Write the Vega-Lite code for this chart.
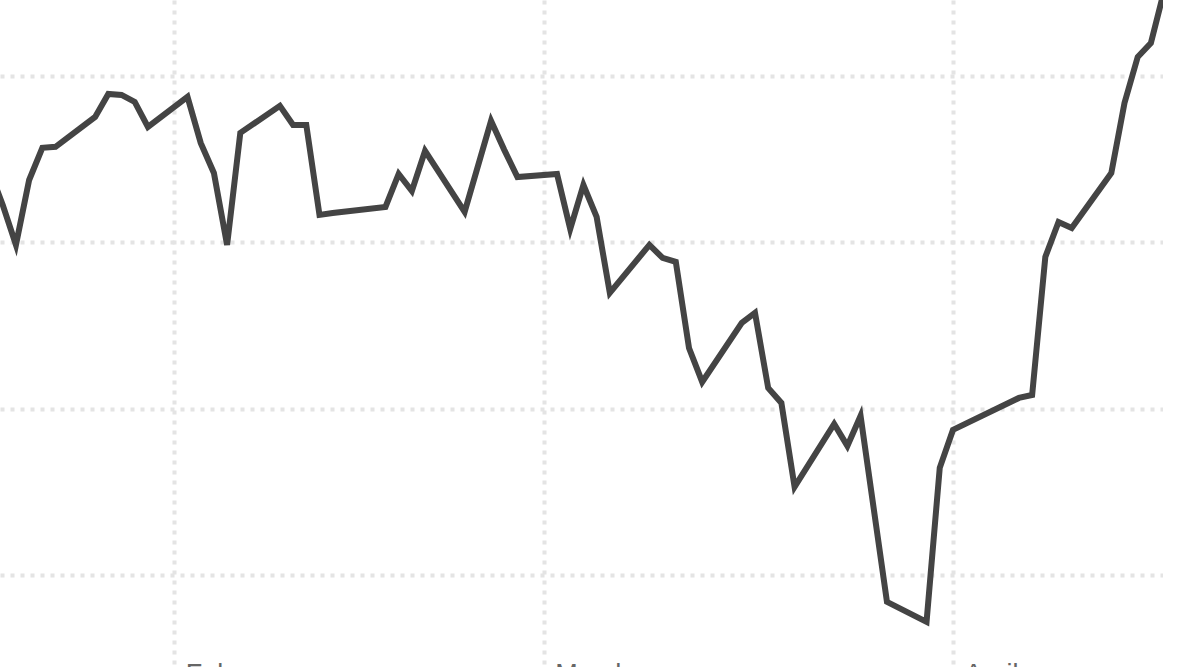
{
  "$schema": "https://vega.github.io/schema/vega-lite/v6.json",
  "width": 1163,
  "height": 667,
  "autosize": {"type": "none"},
  "padding": 0,
  "background": "white",
  "config": {"view": {"stroke": null}},
  "data": {
    "format": {"parse": {"date": "date:'%Y-%m-%d'"}},
    "values": [
      {"date": "2019-01-18", "value": 84.35},
      {"date": "2019-01-19", "value": 82.25},
      {"date": "2019-01-20", "value": 79.85},
      {"date": "2019-01-21", "value": 83.75},
      {"date": "2019-01-22", "value": 85.68},
      {"date": "2019-01-23", "value": 85.74},
      {"date": "2019-01-26", "value": 87.54},
      {"date": "2019-01-27", "value": 88.92},
      {"date": "2019-01-28", "value": 88.86},
      {"date": "2019-01-29", "value": 88.44},
      {"date": "2019-01-30", "value": 86.94},
      {"date": "2019-02-02", "value": 88.74},
      {"date": "2019-02-03", "value": 85.98},
      {"date": "2019-02-04", "value": 84.17},
      {"date": "2019-02-05", "value": 79.85},
      {"date": "2019-02-06", "value": 86.58},
      {"date": "2019-02-09", "value": 88.2},
      {"date": "2019-02-10", "value": 87.06},
      {"date": "2019-02-11", "value": 87.06},
      {"date": "2019-02-12", "value": 81.65},
      {"date": "2019-02-13", "value": 81.77},
      {"date": "2019-02-17", "value": 82.13},
      {"date": "2019-02-18", "value": 84.11},
      {"date": "2019-02-19", "value": 83.09},
      {"date": "2019-02-20", "value": 85.5},
      {"date": "2019-02-23", "value": 81.83},
      {"date": "2019-02-25", "value": 87.3},
      {"date": "2019-02-26", "value": 85.56},
      {"date": "2019-02-27", "value": 83.93},
      {"date": "2019-03-02", "value": 84.11},
      {"date": "2019-03-03", "value": 80.81},
      {"date": "2019-03-04", "value": 83.45},
      {"date": "2019-03-05", "value": 81.53},
      {"date": "2019-03-06", "value": 76.97},
      {"date": "2019-03-09", "value": 79.85},
      {"date": "2019-03-10", "value": 79.07},
      {"date": "2019-03-11", "value": 78.83},
      {"date": "2019-03-12", "value": 73.66},
      {"date": "2019-03-13", "value": 71.62},
      {"date": "2019-03-16", "value": 75.17},
      {"date": "2019-03-17", "value": 75.77},
      {"date": "2019-03-18", "value": 71.26},
      {"date": "2019-03-19", "value": 70.36},
      {"date": "2019-03-20", "value": 65.32},
      {"date": "2019-03-23", "value": 69.1},
      {"date": "2019-03-24", "value": 67.78},
      {"date": "2019-03-25", "value": 69.58},
      {"date": "2019-03-27", "value": 58.41},
      {"date": "2019-03-30", "value": 57.21},
      {"date": "2019-03-31", "value": 66.46},
      {"date": "2019-04-01", "value": 68.74},
      {"date": "2019-04-06", "value": 70.66},
      {"date": "2019-04-07", "value": 70.84},
      {"date": "2019-04-08", "value": 79.13},
      {"date": "2019-04-09", "value": 81.23},
      {"date": "2019-04-10", "value": 80.87},
      {"date": "2019-04-13", "value": 84.17},
      {"date": "2019-04-14", "value": 88.38},
      {"date": "2019-04-15", "value": 91.14},
      {"date": "2019-04-16", "value": 91.98},
      {"date": "2019-04-17", "value": 95.11}
    ]
  },
  "mark": {"type": "line", "clip": true, "color": "#444444", "strokeWidth": 6, "strokeJoin": "miter"},
  "encoding": {
    "x": {
      "field": "date",
      "type": "temporal",
      "scale": {
        "domain": [
          {"year": 2019, "month": 1, "date": 18, "hours": 19},
          {"year": 2019, "month": 4, "date": 16, "hours": 22}
        ]
      },
      "axis": {
        "title": null,
        "format": "%B",
        "tickCount": {"interval": "month", "step": 1},
        "domain": false,
        "ticks": false,
        "grid": true,
        "gridColor": "#e4e4e4",
        "gridWidth": 4,
        "gridDash": [4, 6],
        "labelAlign": "left",
        "labelBaseline": "top",
        "labelPadding": -6,
        "labelOffset": 11,
        "labelFont": "Liberation Sans",
        "labelFontSize": 27,
        "labelColor": "#666666",
        "labelFlush": false,
        "labelOverlap": false
      }
    },
    "y": {
      "field": "value",
      "type": "quantitative",
      "scale": {"domain": [54.5, 94.56], "nice": false, "zero": false},
      "axis": {
        "title": null,
        "values": [60, 70, 80, 90],
        "labels": false,
        "ticks": false,
        "domain": false,
        "grid": true,
        "gridColor": "#e4e4e4",
        "gridWidth": 4,
        "gridDash": [4, 6]
      }
    }
  }
}
